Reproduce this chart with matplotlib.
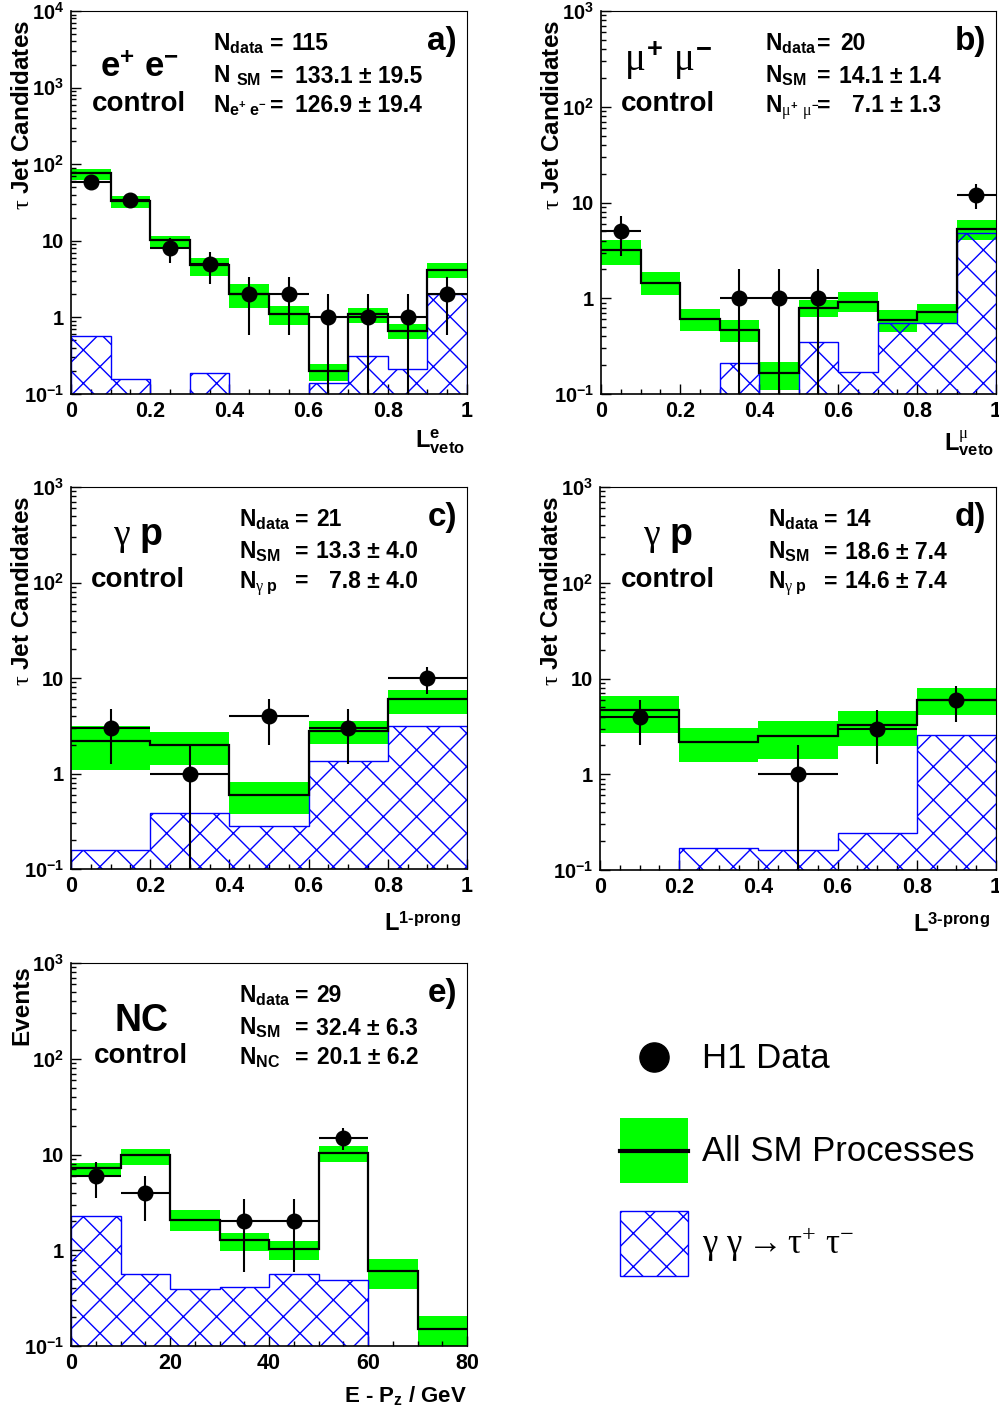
import numpy as np
import matplotlib
matplotlib.use('Agg')
import matplotlib.pyplot as plt
from matplotlib.ticker import LogLocator, MultipleLocator, FuncFormatter, NullFormatter
from matplotlib.patches import Patch
from matplotlib.lines import Line2D
from matplotlib.legend_handler import HandlerLine2D

plt.rcParams['font.family'] = ['Liberation Sans', 'DejaVu Sans']
plt.rcParams['font.weight'] = 'bold'
plt.rcParams['axes.labelweight'] = 'bold'
plt.rcParams['mathtext.fontset'] = 'custom'
plt.rcParams['mathtext.rm'] = 'Liberation Sans:bold'
plt.rcParams['mathtext.bf'] = 'Liberation Sans:bold'
plt.rcParams['mathtext.sf'] = 'Liberation Sans:bold'
plt.rcParams['mathtext.it'] = 'Liberation Serif:weight=normal'
plt.rcParams['mathtext.default'] = 'it'
plt.rcParams['hatch.linewidth'] = 1.0

# ---- data ----
l_edges10 = [0.0, 0.1, 0.2, 0.3, 0.4, 0.5, 0.6, 0.7, 0.8, 0.9, 1.0]
l_edges5 = [0.0, 0.2, 0.4, 0.6, 0.8, 1.0]
epz_edges = [0, 10, 20, 30, 40, 50, 60, 70, 80]

# a) e+e- control, L^e_veto
a_sm = [76, 32.7, 10.1, 4.8, 2.0, 1.12, 0.20, 1.12, 0.66, 4.2]
a_lo = [61.5, 27, 7.9, 3.5, 1.34, 0.80, 0.15, 0.84, 0.53, 3.3]
a_hi = [87, 39, 11.6, 5.95, 2.7, 1.43, 0.25, 1.34, 0.81, 5.2]
a_gg = [0.57, 0.157, 0, 0.19, 0, 0, 0.139, 0.313, 0.212, 2.0]
a_data = [59, 34, 8, 5, 2, 2, 1, 1, 1, 2]

# b) mu+mu- control, L^mu_veto
b_sm = [3.2, 1.46, 0.61, 0.47, 0.165, 0.79, 0.92, 0.59, 0.71, 5.26]
b_lo = [2.23, 1.07, 0.45, 0.35, 0.109, 0.63, 0.71, 0.44, 0.54, 4.07]
b_hi = [4.07, 1.9, 0.77, 0.59, 0.215, 0.96, 1.16, 0.76, 0.87, 6.58]
b_gg = [0, 0, 0, 0.21, 0, 0.35, 0.169, 0.55, 0.55, 4.8]
b_data = [5, 0, 0, 1, 1, 1, 0, 0, 0, 12]

# c) gamma p control, L 1-prong
c_sm = [2.18, 2.0, 0.59, 2.77, 5.96]
c_lo = [1.10, 1.23, 0.38, 2.05, 4.2]
c_hi = [3.18, 2.71, 0.81, 3.53, 7.5]
c_gg = [0.159, 0.384, 0.279, 1.35, 3.16]
c_data = [3, 1, 4, 3, 10]

# d) gamma p control, L 3-prong
d_sm = [4.67, 2.18, 2.5, 3.3, 6.03]
d_lo = [2.7, 1.33, 1.45, 1.96, 4.17]
d_hi = [6.6, 3.05, 3.64, 4.63, 7.98]
d_gg = [0, 0.17, 0.16, 0.244, 2.54]
d_data = [4, 0, 1, 3, 6]

# e) NC control, E - Pz
e_sm = [7.15, 9.78, 2.09, 1.27, 1.03, 10.4, 0.60, 0.150]
e_lo = [5.94, 7.75, 1.58, 0.98, 0.79, 8.3, 0.39, 0.10]
e_hi = [8.2, 11.5, 2.66, 1.52, 1.26, 12.4, 0.81, 0.207]
e_gg = [2.27, 0.565, 0.397, 0.41, 0.565, 0.485, 0, 0]
e_data = [6, 4, 0, 2, 2, 15, 0, 0]

a_names = [r'N$_{\mathrm{data}}$', r'N $_{\mathrm{SM}}$', r'N$_{\mathrm{e^{+}\ e^{-}}}$']
a_values = ['115', '133.1 \u00b1 19.5', '126.9 \u00b1 19.4']
b_names = [r'N$_{\mathrm{data}}$', r'N$_{\mathrm{SM}}$', r'N$_{\mu^{+}\ \mu^{-}}$']
b_values = ['20', '14.1 \u00b1 1.4', '7.1 \u00b1 1.3']
c_names = [r'N$_{\mathrm{data}}$', r'N$_{\mathrm{SM}}$', r'N$_{\gamma\ \mathrm{p}}$']
c_values = ['21', '13.3 \u00b1 4.0', '7.8 \u00b1 4.0']
d_names = c_names
d_values = ['14', '18.6 \u00b1 7.4', '14.6 \u00b1 7.4']
e_names = [r'N$_{\mathrm{data}}$', r'N$_{\mathrm{SM}}$', r'N$_{\mathrm{NC}}$']
e_values = ['29', '32.4 \u00b1 6.3', '20.1 \u00b1 6.2']

GREEN = '#00ff00'
W, H = 999, 1412
fig = plt.figure(figsize=(W / 100, H / 100), dpi=100)


def px_axes(x0, y0, x1, y1):
	return fig.add_axes([x0 / W, 1 - y1 / H, (x1 - x0) / W, (y1 - y0) / H])


def log_label(v, pos):
	e = int(round(np.log10(v)))
	if e == 0:
		return '1'
	if e == 1:
		return '10'
	return r'10$^{%d}$' % e


def draw(ax, edges, sm, lo, hi, gg, data, ymax, xmaj, xmin):
	edges = np.asarray(edges, float)
	width = np.diff(edges)
	centers = edges[:-1] + width / 2
	ax.set_yscale('log')
	ax.bar(edges[:-1], np.subtract(hi, lo), width=width, bottom=lo, align='edge',
		color=GREEN, lw=0, zorder=1)
	ax.stairs(gg, edges, baseline=1e-3, fill=True, facecolor='none', edgecolor='blue',
		hatch='x', lw=1, zorder=2)
	ax.stairs(sm, edges, baseline=None, color='black', lw=1.6, zorder=3)
	n = np.asarray(data, float)
	m = n > 0
	ax.errorbar(centers[m], n[m], xerr=width[m] / 2, yerr=np.sqrt(n[m]), fmt='o',
		color='black', ms=10.5, lw=1.5, capsize=0, zorder=4)
	ax.set_xlim(edges[0], edges[-1])
	ax.set_ylim(0.1, ymax)
	ax.yaxis.set_major_locator(LogLocator(base=10, numticks=10))
	ax.yaxis.set_minor_locator(LogLocator(base=10, subs=np.arange(2, 10), numticks=20))
	ax.yaxis.set_minor_formatter(NullFormatter())
	ax.yaxis.set_major_formatter(FuncFormatter(log_label))
	ax.xaxis.set_major_locator(MultipleLocator(xmaj))
	ax.xaxis.set_minor_locator(MultipleLocator(xmin))
	ax.xaxis.set_major_formatter(FuncFormatter(lambda v, p: '%g' % v))
	ax.tick_params(which='both', direction='in', top=False, right=False, pad=5)
	ax.tick_params(axis='x', labelsize=15.5)
	ax.tick_params(axis='y', labelsize=14.5)
	ax.tick_params(which='major', length=7, width=1)
	ax.tick_params(which='minor', length=3.5, width=1)
	for s in ['left', 'bottom']:
		ax.spines[s].set_linewidth(1.2)
	for s in ['top', 'right']:
		ax.spines[s].set_linewidth(0.8)


def numbers(ax, names, values, x_name, x_eq, x_v, x_r):
	ys = [0.897, 0.813, 0.735]
	for i, (nm, val) in enumerate(zip(names, values)):
		ax.text(x_name, ys[i], nm, transform=ax.transAxes, fontsize=16.5, va='baseline')
		ax.text(x_eq, ys[i], '=', transform=ax.transAxes, fontsize=16.5, va='baseline')
		if i == 0:
			ax.text(x_v, ys[i], val, transform=ax.transAxes, fontsize=16.5, va='baseline')
		else:
			ax.text(x_r, ys[i], val, transform=ax.transAxes, fontsize=16.5, va='baseline', ha='right')


def header(ax, tag, big, big_y, big_size, xc=0.172):
	ax.text(0.975, 0.898, tag, transform=ax.transAxes, fontsize=24, ha='right', va='baseline')
	ax.text(xc, big_y, big, transform=ax.transAxes, fontsize=big_size, ha='center', va='baseline')
	ax.text(xc, 0.738, 'control', transform=ax.transAxes, fontsize=20, ha='center', va='baseline')


ax_a = px_axes(71, 11, 467, 394)
draw(ax_a, l_edges10, a_sm, a_lo, a_hi, a_gg, a_data, 1e4, 0.2, 0.05)
header(ax_a, 'a)', r'e$^{+}$ e$^{-}$', 0.828, 25)
numbers(ax_a, a_names, a_values, 0.359, 0.502, 0.557, 0.886)
ax_a.set_xlabel(r'$\mathrm{L^{e}_{veto}}$', fontsize=17, loc='right')

ax_b = px_axes(601, 11, 996, 394)
draw(ax_b, l_edges10, b_sm, b_lo, b_hi, b_gg, b_data, 1e3, 0.2, 0.05)
header(ax_b, 'b)', r'$\mu^{+}\ \mu^{-}$', 0.844, 28, xc=0.170)
numbers(ax_b, b_names, b_values, 0.415, 0.546, 0.605, 0.860)
ax_b.set_xlabel(r'$\mathrm{L}^{\mu}_{\mathrm{veto}}$', fontsize=17, loc='right')

ax_c = px_axes(71, 487, 467, 869)
draw(ax_c, l_edges5, c_sm, c_lo, c_hi, c_gg, c_data, 1e3, 0.2, 0.05)
header(ax_c, 'c)', r'$\gamma\ \mathrm{p}$', 0.848, 27, xc=0.169)
numbers(ax_c, c_names, c_values, 0.425, 0.566, 0.619, 0.877)
ax_c.set_xlabel(r'$\mathrm{L}^{\mathrm{1}\text{-}\mathrm{prong}}$', fontsize=17, loc='right')

ax_d = px_axes(600, 487, 996, 870)
draw(ax_d, l_edges5, d_sm, d_lo, d_hi, d_gg, d_data, 1e3, 0.2, 0.05)
header(ax_d, 'd)', r'$\gamma\ \mathrm{p}$', 0.848, 27, xc=0.172)
numbers(ax_d, d_names, d_values, 0.424, 0.566, 0.619, 0.875)
ax_d.set_xlabel(r'$\mathrm{L}^{\mathrm{3}\text{-}\mathrm{prong}}$', fontsize=17, loc='right')

ax_e = px_axes(71, 963, 467, 1346)
draw(ax_e, epz_edges, e_sm, e_lo, e_hi, e_gg, e_data, 1e3, 20, 5)
header(ax_e, 'e)', 'NC', 0.822, 27, xc=0.177)
numbers(ax_e, e_names, e_values, 0.425, 0.566, 0.619, 0.877)
ax_e.set_xlabel(r'E - P$_{\mathrm{z}}$ / GeV', fontsize=16, loc='right')

for ax in [ax_a, ax_b, ax_c, ax_d]:
	ax.set_ylabel(r'$\tau$ Jet Candidates', fontsize=17.5, loc='top')
	ax.yaxis.set_label_coords(-0.093, 0.977)
for ax in [ax_a, ax_b]:
	ax.xaxis.set_label_coords(0.995, -0.088)
for ax in [ax_c, ax_d]:
	ax.xaxis.set_label_coords(0.985, -0.112)
ax_e.set_ylabel('Events', fontsize=17.5, loc='top')
ax_e.yaxis.set_label_coords(-0.095, 0.995)
ax_e.xaxis.set_label_coords(1.0, -0.10)


class CenteredLine(HandlerLine2D):
	# put the line / marker in the middle of the handle box
	def create_artists(self, legend, orig_handle, xdescent, ydescent, width, height, fontsize, trans):
		return super().create_artists(legend, orig_handle, xdescent, 2 * ydescent, width, height,
			fontsize, trans)


# legend
handles = [
	Line2D([0], [0], marker='o', ls='none', color='black', markersize=21),
	(Patch(facecolor=GREEN, edgecolor='none'), Line2D([0], [0], color='black', lw=3)),
	Patch(facecolor='white', edgecolor='blue', hatch='x', lw=1),
]
labels = ['H1 Data', 'All SM Processes',
	r'$\mathregular{\gamma\ \gamma \rightarrow \tau^{+}\ \tau^{-}}$']
leg = fig.legend(handles, labels, loc='upper left', bbox_to_anchor=(620 / W, 1 - 1025 / H),
	frameon=False, borderpad=0, borderaxespad=0, handlelength=1.96, handleheight=2.5,
	labelspacing=0.81, handletextpad=0.40, handler_map={Line2D: CenteredLine()},
	prop={'family': 'Liberation Sans', 'weight': 'normal', 'size': 25})
leg.get_texts()[2].set_family('Liberation Serif')

fig.savefig('out.png', dpi=100)
